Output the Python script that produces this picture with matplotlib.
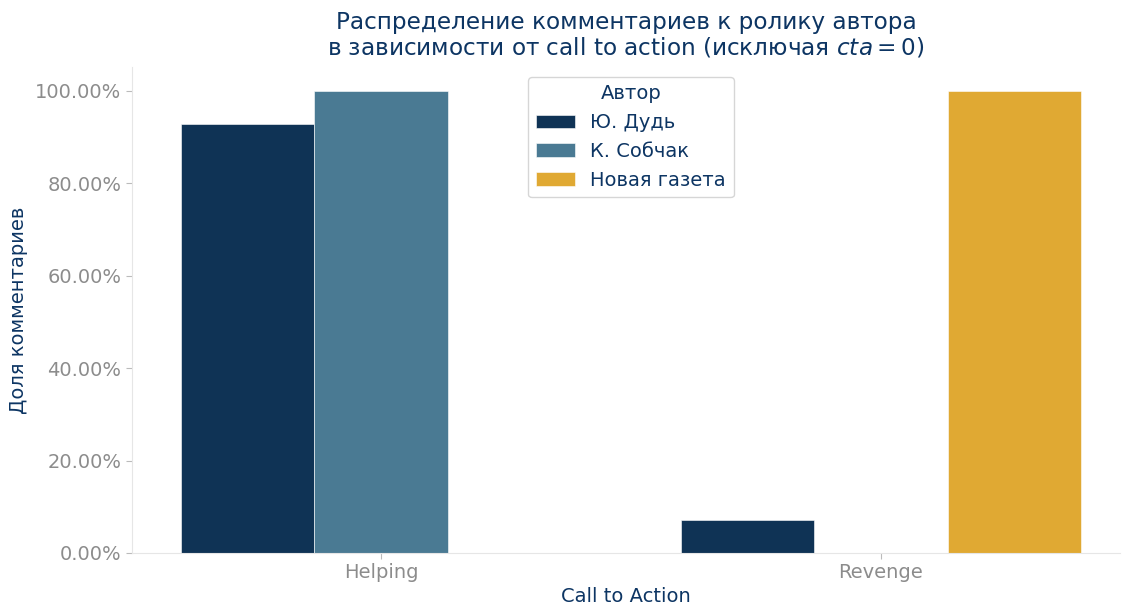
import numpy as np
import matplotlib; matplotlib.use("Agg")
import matplotlib.pyplot as plt
from matplotlib.ticker import PercentFormatter

# data
CTA = ["Helping", "Revenge"]
AUTHORS = ["Ю. Дудь", "К. Собчак", "Новая газета"]
SHARE = {
    "Ю. Дудь": [0.9286, 0.0714],
    "К. Собчак": [1.0, 0.0],
    "Новая газета": [0.0, 1.0],
}

COLORS = ["#0f3355", "#4a7a93", "#e0a933"]
NAVY = "#0d3563"; GREY = "#8c8c8c"; SPINE = "#e6e6e6"

plt.rcParams["font.family"] = ["DejaVu Sans"]
fig = plt.figure(figsize=(11.23, 6.05), dpi=100)
ax = fig.add_axes([0.1175, 0.086, 0.8797, 0.8033])

x = np.arange(len(CTA))
w = 0.8 / len(AUTHORS)
for i, (a, c) in enumerate(zip(AUTHORS, COLORS)):
    off = (i - (len(AUTHORS) - 1) / 2) * w
    ax.bar(x + off, SHARE[a], width=w, color=c, label=a, edgecolor="white", linewidth=0.4)

ax.set_xlim(-0.498, 1.478)
ax.set_ylim(0, 1.052)
ax.set_xticks(x)
ax.set_xticklabels(CTA)
ax.set_yticks(np.arange(0, 1.01, 0.2))
ax.yaxis.set_major_formatter(PercentFormatter(1.0, decimals=2))
ax.tick_params(axis="both", colors="#bbbbbb", labelcolor=GREY, labelsize=14, length=4, width=0.8)
for s in ("top", "right"):
    ax.spines[s].set_visible(False)
for s in ("left", "bottom"):
    ax.spines[s].set_color(SPINE)

ax.set_xlabel("Call to Action", color=NAVY, fontsize=14, labelpad=3)
ax.set_ylabel("Доля комментариев", color=NAVY, fontsize=14, labelpad=5)
ax.set_title("Распределение комментариев к ролику автора\nв зависимости от call to action (исключая $cta = 0$)",
             color=NAVY, fontsize=16.7, pad=9, linespacing=1.1)

leg = ax.legend(title="Автор", loc="upper center", bbox_to_anchor=(0.505, 1.0), fontsize=14,
                title_fontsize=14, frameon=True, fancybox=True, labelcolor=NAVY)
leg.get_title().set_color(NAVY)
leg.get_frame().set_edgecolor("#cccccc")

fig.savefig("out.png", dpi=100)
